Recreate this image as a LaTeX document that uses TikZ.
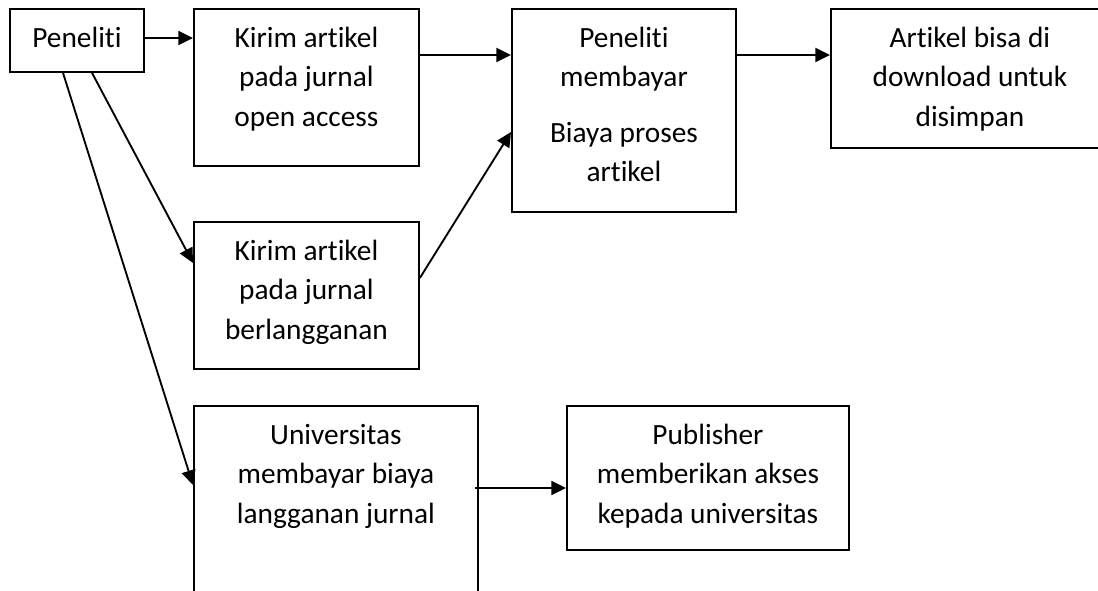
\documentclass[tikz,border=0pt]{standalone}
\usepackage{fontspec}
\setmainfont[Ligatures=NoCommon]{Carlito}
\usepackage{tikz}
\usetikzlibrary{arrows.meta, calc}

\newdimen\pix
\pix=0.75pt
\newcommand{\boxtext}[3]{\parbox[c][#2\pix][t]{#1\pix}{\centering\rule{0pt}{29pt}#3}}

\begin{document}
\begin{tikzpicture}[x=0.75pt, y=-0.75pt,
                            font=\fontsize{22}{29.5}\selectfont,
                            box/.style={draw=black, line width=1.4pt, inner sep=0pt, anchor=north west},
                            link/.style={-{Triangle[length=11pt, width=10.5pt]}, line width=1.4pt, black}]

            \useasboundingbox (0,0) rectangle (1098,591);
            \clip (0,0) rectangle (1098,591);

            \node[box] (peneliti)  at (9,8)     {\boxtext{134}{63}{Peneliti}};
            \node[box] (kirimoa)   at (193,8)   {\boxtext{225}{157}{Kirim artikel\\pada jurnal\\open access}};
            \node[box] (bayar)     at (511,8)   {\boxtext{224}{203}{Peneliti\\membayar\\[12pt]Biaya proses\\artikel}};
            \node[box] (unduh)     at (830,8)   {\boxtext{278}{139}{Artikel bisa di\\download untuk\\disimpan}};
            \node[box] (kirimlg)   at (193,221) {\boxtext{225}{147}{Kirim artikel\\pada jurnal\\berlangganan}};
            \node[box] (univ)      at (193,405) {\boxtext{284}{230}{Universitas\\membayar biaya\\langganan jurnal}};
            \node[box] (publisher) at (566,405) {\boxtext{282}{144}{Publisher\\memberikan akses\\kepada universitas}};

            \draw[link] ($(peneliti.north east)+(0,30)$) to ($(kirimoa.north west)+(0,30)$);
            \draw[link] ($(kirimoa.north east)+(0,47)$) to ($(bayar.north west)+(0,47)$);
            \draw[link] ($(bayar.north east)+(0,47)$) to ($(unduh.north west)+(0,47)$);
            \draw[link] ($(kirimlg.north east)+(0,57)$) to ($(bayar.north west)+(0,124)$);
            \draw[link] ($(peneliti.south west)+(83,0)$) to ($(kirimlg.north west)+(0,42)$);
            \draw[link] ($(peneliti.south west)+(54,0)$) to ($(univ.north west)+(0,80)$);
            \draw[link] ($(univ.north east)+(-4,83)$) to ($(publisher.north west)+(0,83)$);
        \end{tikzpicture}
\end{document}
